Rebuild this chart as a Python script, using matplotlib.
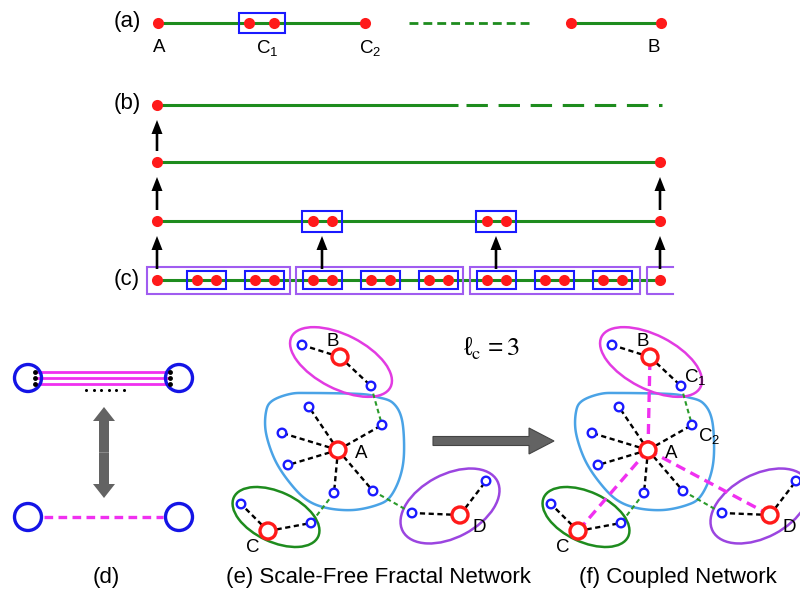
import numpy as np
import matplotlib
matplotlib.use("Agg")
import matplotlib.pyplot as plt
from matplotlib.patches import Rectangle, Ellipse, Circle, Polygon

plt.rcParams['font.family'] = ['Liberation Sans', 'DejaVu Sans']
plt.rcParams['mathtext.fontset'] = 'stix'
plt.rcParams['mathtext.default'] = 'regular'

GREEN = '#1e8c1e'
RED = '#ff1a1a'
BLUE = '#1a1aff'
PURPLE = '#a05cf0'
MAGENTA = '#f030f0'
SKY = '#4aa3e6'
GREY = '#636363'

#
# renormalisation chain, rows (a)-(c)
#
row_y = [23, 105, 162, 221, 280]
row_names = ['(a)', '(b)', '', '', '(c)']

a_dots = [158, 249, 274, 365, 571, 661]
a_solid = [(158, 365), (571, 661)]
a_dashed = (409, 534)
a_box_centers = [262]
a_labels = ['A', 'C$_1$', 'C$_2$', 'B']
a_label_x = [159, 267, 370, 654]

b_dots = [157]
b_solid = (157, 458)
b_dashed = (466, 662)

r2_dots = [157, 660]
r3_dots = [157, 660]
r3_box_centers = [322, 496]

c_dots = [157, 660]
c_box_centers = [206, 264, 322, 380, 438, 496, 554, 612]
c_purple_spans = [(147, 290), (296, 463), (470, 640), (647, 673)]

# (lower row, upper row, x of arrows)
arrow_steps = [(2, 1, [157]), (3, 2, [157, 660]), (4, 3, [157, 322, 496, 660])]

#
# fractal network (e); (f) is the same one shifted right
#
hub_A = (338, 450)
A_leaves = [(309, 407), (282, 433), (288, 465), (334, 493), (373, 491), (382, 425)]
hub_B = (340, 357)
B_leaves = [(302, 345), (371, 386)]
hub_C = (268, 531)
C_leaves = [(241, 504), (311, 523)]
hub_D = (460, 515)
D_leaves = [(486, 481), (412, 513)]
inter_links = [((371, 386), (382, 425)), ((334, 493), (311, 523)), ((373, 491), (412, 513))]

blob_A = [(272, 401), (290, 394), (310, 393), (360, 394), (377, 397), (393, 403), (402, 420),
          (404, 453), (400, 477), (390, 497), (377, 505), (353, 510), (327, 508),
          (307, 500), (290, 483), (275, 460), (266, 433), (266, 412)]
# centre, width, height, angle
ell_B = ((341, 362), 111, 54, 27)
ell_C = ((276, 517), 93, 50, 25)
ell_D = ((450, 506), 107, 63, -28)

hub_labels = {'A': (361, 454), 'B': (333, 342), 'C': (253, 547), 'D': (479, 527)}
shift_f = 310


def closed_spline(pts, n=24):
    P = np.asarray(pts, float)
    N = len(P)
    t = np.linspace(0, 1, n, endpoint=False)[:, None]
    out = []
    for i in range(N):
        p0, p1, p2, p3 = P[i - 1], P[i], P[(i + 1) % N], P[(i + 2) % N]
        out.append(0.5 * (2 * p1 + (-p0 + p2) * t + (2 * p0 - 5 * p1 + 4 * p2 - p3) * t ** 2
                          + (-p0 + 3 * p1 - 3 * p2 + p3) * t ** 3))
    return np.vstack(out)


fig = plt.figure(figsize=(8, 5.91), dpi=100)
ax = fig.add_axes([0, 0, 1, 1])
ax.set_xlim(0, 800)
ax.set_ylim(591, 0)
ax.axis('off')


def red_dots(xs, y):
    ax.plot(xs, [y] * len(xs), 'o', color=RED, ms=8, mec='none', zorder=4)


def boxed_pair(cx, y, w, h, gap):
    ax.add_patch(Rectangle((cx - w / 2, y - h / 2), w, h, fill=False, ec=BLUE, lw=1.5, zorder=3))
    red_dots([cx - gap, cx + gap], y)


def solid(x0, x1, y):
    ax.plot([x0, x1], [y, y], color=GREEN, lw=2.2, solid_capstyle='butt', zorder=2)


# row (a)
ya = row_y[0]
for x0, x1 in a_solid:
    solid(x0, x1, ya)
ax.plot(a_dashed, [ya, ya], color=GREEN, lw=2.0, ls=(0, (3.2, 1.8)), zorder=2)
red_dots(a_dots, ya)
for cx in a_box_centers:
    ax.add_patch(Rectangle((cx - 23, ya - 10), 46, 20, fill=False, ec=BLUE, lw=1.5, zorder=3))
for lab, x in zip(a_labels, a_label_x):
    ax.text(x, ya + 25, lab, ha='center', va='center', fontsize=13.5)

# row (b)
yb = row_y[1]
solid(*b_solid, yb)
ax.plot(b_dashed, [yb, yb], color=GREEN, lw=2.2, ls=(0, (7, 3.5)), zorder=2)
red_dots(b_dots, yb)

# intermediate rows
solid(r2_dots[0], r2_dots[-1], row_y[2])
red_dots(r2_dots, row_y[2])
solid(r3_dots[0], r3_dots[-1], row_y[3])
red_dots(r3_dots, row_y[3])
for cx in r3_box_centers:
    boxed_pair(cx, row_y[3], 40, 21, 9.5)

# row (c)
yc = row_y[4]
solid(c_dots[0], c_dots[-1], yc)
red_dots(c_dots, yc)
for cx in c_box_centers:
    boxed_pair(cx, yc, 39, 18, 9.5)
for i, (x0, x1) in enumerate(c_purple_spans):
    if i < len(c_purple_spans) - 1:
        ax.add_patch(Rectangle((x0, yc - 13.5), x1 - x0, 27, fill=False, ec=PURPLE, lw=1.5, zorder=3))
    else:
        ax.plot([x1, x0, x0, x1], [yc - 13.5, yc - 13.5, yc + 13.5, yc + 13.5],
                color=PURPLE, lw=1.5, zorder=3)

for lo, up, xs in arrow_steps:
    y0 = row_y[lo] - 11
    y1 = row_y[up] + 15
    for x in xs:
        ax.arrow(x, y0, 0, y1 - y0, width=2.6, head_width=11, head_length=14,
                 length_includes_head=True, fc='black', ec='none', zorder=5)

for name, y in zip(row_names, row_y):
    if name:
        ax.text(127, y - 1, name, ha='center', va='center', fontsize=16)

#
# (d) multiple links <-> one coupling link
#
d_left, d_right = 28, 179
d_top, d_bot = 378, 517
link_y = [372, 378, 384]
for cx in (d_left, d_right):
    for cy in (d_top, d_bot):
        ax.add_patch(Circle((cx, cy), 13.5, fill=False, ec='#1414e6', lw=2.4, zorder=3))
for y in link_y:
    ax.plot([37, 170], [y, y], color=MAGENTA, lw=2.0, zorder=2)
    ax.plot([35, 170], [y, y], 'o', color='black', ms=3.5, mec='none', zorder=4)
ax.plot(np.linspace(86, 124, 6), [390] * 6, 'o', color='black', ms=2.2, mec='none')
ax.plot([44, 163], [d_bot, d_bot], color=MAGENTA, lw=2.4, ls=(0, (2.6, 1.6)), zorder=2)
mid = (407 + 498) / 2
for end in (407, 498):
    ax.arrow(104, mid, 0, end - mid, width=10, head_width=22, head_length=14,
             length_includes_head=True, fc=GREY, ec='none', zorder=3)


#
# (e) and (f) networks
#
def draw_network(dx, coupled=False):
    def s(p):
        return (p[0] + dx, p[1])

    ax.add_patch(Polygon(closed_spline(blob_A) + [dx, 0], closed=True, fill=False,
                         ec=SKY, lw=1.8, zorder=1))
    for (c, w, h, ang), col in zip((ell_B, ell_C, ell_D), ('#e23be2', GREEN, '#9b45e0')):
        ax.add_patch(Ellipse(s(c), w, h, angle=ang, fill=False, ec=col, lw=1.8, zorder=1))
    for hub, leaves in ((hub_A, A_leaves), (hub_B, B_leaves), (hub_C, C_leaves), (hub_D, D_leaves)):
        for lf in leaves:
            ax.plot([hub[0] + dx, lf[0] + dx], [hub[1], lf[1]], color='black', lw=1.7,
                    ls=(0, (2.2, 1.5)), zorder=2)
    for p, q in inter_links:
        ax.plot([p[0] + dx, q[0] + dx], [p[1], q[1]], color='#2a9a2a', lw=1.5,
                ls=(0, (2.2, 1.6)), zorder=2)
    if coupled:
        for hub in (hub_B, hub_C, hub_D):
            ax.plot([hub_A[0] + dx, hub[0] + dx], [hub_A[1], hub[1]], color=MAGENTA,
                    lw=2.4, ls=(0, (3, 1.8)), zorder=2)
    for leaves in (A_leaves, B_leaves, C_leaves, D_leaves):
        for lf in leaves:
            ax.add_patch(Circle(s(lf), 4.3, fc='white', ec=BLUE, lw=1.7, zorder=5))
    for hub in (hub_A, hub_B, hub_C, hub_D):
        ax.add_patch(Circle(s(hub), 8, fc='white', ec=RED, lw=2.4, zorder=5))
    for lab, p in hub_labels.items():
        ax.text(p[0] + dx, p[1], lab, ha='center', va='center', fontsize=13.5, zorder=6)
    if coupled:
        ax.text(B_leaves[1][0] + dx + 14, B_leaves[1][1] - 9, 'C$_1$', ha='center',
                va='center', fontsize=13.5, zorder=6)
        ax.text(A_leaves[5][0] + dx + 17, A_leaves[5][1] + 11, 'C$_2$', ha='center',
                va='center', fontsize=13.5, zorder=6)


draw_network(0)
draw_network(shift_f, coupled=True)

ax.arrow(433, 441, 121, 0, width=9, head_width=26, head_length=25,
         length_includes_head=True, fc=GREY, ec='#444444', lw=0.8, zorder=3)
ax.text(492, 349, r'$\ell_{\mathrm{c}}\, = \mathrm{3}$', ha='center', va='center', fontsize=19)

ax.text(106, 578, '(d)', ha='center', va='center', fontsize=16)
ax.text(378, 578, '(e) Scale-Free Fractal Network', ha='center', va='center', fontsize=16)
ax.text(678, 578, '(f) Coupled Network', ha='center', va='center', fontsize=16)

fig.savefig('out.png', dpi=100)
